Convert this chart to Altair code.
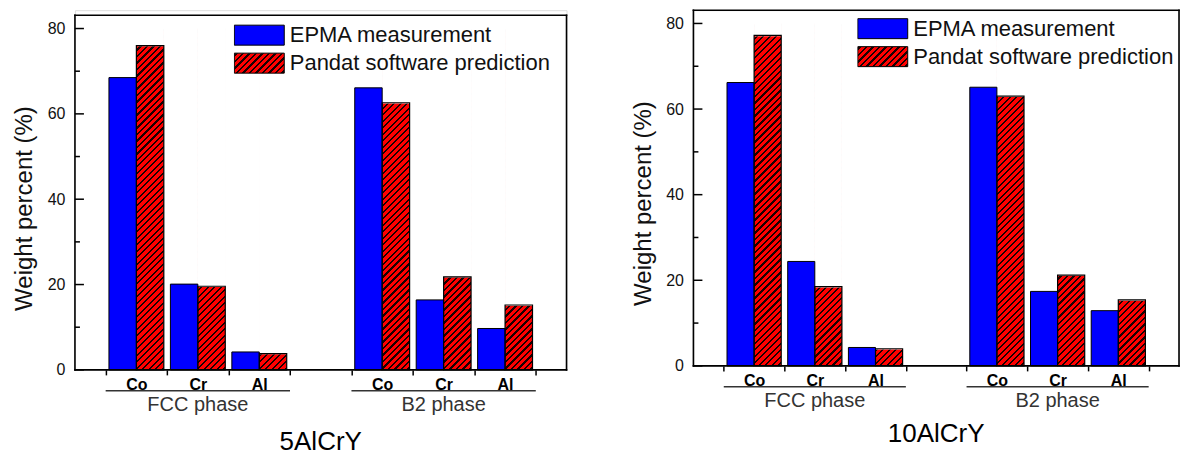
import altair as alt
import pandas as pd

# ---------------- data ----------------
elements = ["Co", "Cr", "Al"]
phases = ["FCC phase", "B2 phase"]
phase_keys = ["FCC", "B2"]
series = ["EPMA measurement", "Pandat software prediction"]

epma_5 = [68.5, 20.1, 4.2, 66.1, 16.4, 9.7]
pandat_5 = [76.0, 19.6, 3.8, 62.6, 21.8, 15.2]
epma_10 = [66.2, 24.4, 4.3, 65.1, 17.4, 12.9]
pandat_10 = [77.2, 18.5, 4.0, 63.0, 21.2, 15.4]

y_ticks_major = [0, 20, 40, 60, 80]
y_ticks_minor = [10, 30, 50, 70]

# category keys along x (with an empty slot between the two phases)
keys = [f"{p}|{e}" for p in phase_keys[:1] for e in elements] + ["gap"] + \
       [f"{p}|{e}" for p in phase_keys[1:] for e in elements]

FONT = "Liberation Sans"
BLUE = "#0000ff"
RED = "#ff0000"
INK = "#1a0000"
HATCH_TOP = 80
PAD_OUT = 0.12


def stops_for(w, h, p=6.5, b=2.2):
    L = w + h
    st = [(0.0, RED)]
    a = 1.5
    while a < L:
        o1 = min(a / L, 1.0)
        o2 = min((a + b) / L, 1.0)
        st += [(o1, RED), (o1, INK), (o2, INK), (o2, RED)]
        a += p
    st.append((1.0, RED))
    s = L / (w * w + h * h)
    return st, w * s, h * s


def hatch_gradient(w, h):
    st, x2, y2 = stops_for(w, h)
    return alt.LinearGradient(
        gradient="linear", x1=0, y1=0, x2=x2, y2=y2,
        stops=[alt.GradientStop(offset=o, color=c) for o, c in st])


def hatch_expr(w, h):
    st, x2, y2 = stops_for(w, h)
    stop_txt = ",".join("{offset:%.5f,color:'%s'}" % (o, c) for o, c in st)
    return "{gradient:'linear',x1:0,y1:0,x2:%.5f,y2:%.5f,stops:[%s]}" % (x2, y2, stop_txt)


def panel(title, epma, pandat, W, H, ymax, frame_top, legend_xy, title_y, title_offset):
    rows = []
    i = 0
    for pk in phase_keys:
        for el in elements:
            k = f"{pk}|{el}"
            rows.append({"key": k, "series": series[0], "value": epma[i]})
            rows.append({"key": k, "series": series[1], "value": pandat[i]})
            i += 1
    df = pd.DataFrame(rows)
    blue_df = df[df.series == series[0]]
    red_df = df[df.series == series[1]]

    band = W / 8.0
    bw = band / (2 + 2 * PAD_OUT)
    hh = HATCH_TOP / ymax * H

    xscale = alt.Scale(domain=keys, paddingInner=0, paddingOuter=0.5)
    xaxis = alt.Axis(
        title=None, labelExpr="indexof(datum.label,'|') >= 0 ? split(datum.label,'|')[1] : ''",
        tickBand="extent", ticks=True, tickSize=5, tickWidth=1.5, tickColor="black",
        domain=False, grid=False, labelAngle=0, labelFontSize=16, labelFontWeight="bold",
        labelColor="black", labelPadding=2, labelFont=FONT)
    yscale = alt.Scale(domain=[0, ymax], nice=False, zero=True)
    yaxis = alt.Axis(
        title="Weight percent (%)", values=y_ticks_major, format="d", ticks=False, tickSize=0,
        domain=False, grid=False, labelFontSize=16, labelPadding=10, labelColor="#111",
        labelFont=FONT, titleFont=FONT, titleFontSize=24, titleFontWeight="normal",
        titleColor="#111", titleX=-38, titleY=title_y)
    xo = alt.XOffset("series:N", scale=alt.Scale(domain=series, paddingInner=0, paddingOuter=PAD_OUT))

    X = alt.X("key:N", scale=xscale, axis=xaxis)

    hatch = alt.Chart(red_df).mark_bar(fill=hatch_gradient(bw, hh), strokeWidth=0).encode(
        x=X, xOffset=xo,
        y=alt.YDatum(0, scale=yscale, axis=yaxis, type="quantitative"),
        y2=alt.Y2Datum(HATCH_TOP))
    cover = alt.Chart(red_df).mark_bar(fill="white", stroke="white", strokeWidth=1.4).encode(
        x=X, xOffset=xo,
        y=alt.Y("value:Q", scale=yscale, axis=yaxis, stack=None),
        y2=alt.Y2Datum(HATCH_TOP))
    bars = alt.Chart(blue_df).mark_bar(stroke="black", strokeWidth=1).encode(
        x=X, xOffset=xo,
        y=alt.Y("value:Q", scale=yscale, axis=yaxis, stack=None),
        fill=alt.Fill("series:N",
                      scale=alt.Scale(domain=series, range=[BLUE, alt.ExprRef(hatch_expr(50, 20))]),
                      legend=alt.Legend(
                          orient="none", legendX=legend_xy[0], legendY=legend_xy[1], title=None,
                          symbolType="M-1,-0.4L1,-0.4L1,0.4L-1,0.4Z", symbolSize=2500,
                          symbolStrokeColor="black", symbolStrokeWidth=1, symbolOpacity=1,
                          labelFontSize=22, labelFont=FONT, labelColor="#111", labelOffset=5,
                          labelLimit=400, clipHeight=26, rowPadding=2, padding=0)))
    outline = alt.Chart(red_df).mark_bar(fill="white", fillOpacity=0, stroke="black", strokeWidth=1.2).encode(
        x=X, xOffset=xo,
        y=alt.Y("value:Q", scale=yscale, axis=yaxis, stack=None))

    tick_major = alt.Chart(pd.DataFrame({"v": y_ticks_major})).mark_rule(
        color="black", strokeWidth=1.5).encode(
        y=alt.Y("v:Q", scale=yscale, axis=yaxis), x=alt.value(0), x2=alt.value(9))
    tick_minor = alt.Chart(pd.DataFrame({"v": y_ticks_minor})).mark_rule(
        color="black", strokeWidth=1.5).encode(
        y=alt.Y("v:Q", scale=yscale, axis=yaxis), x=alt.value(0), x2=alt.value(5))

    # plot frame
    one = pd.DataFrame({"f": [0]})
    fr = dict(color="black", strokeWidth=1.6, strokeCap="square")
    frame = [
        alt.Chart(one).mark_rule(**fr).encode(x=alt.value(0), x2=alt.value(W), y=alt.value(frame_top)),
        alt.Chart(one).mark_rule(**fr).encode(x=alt.value(0), x2=alt.value(W), y=alt.value(H)),
        alt.Chart(one).mark_rule(**fr).encode(x=alt.value(0), y=alt.value(frame_top), y2=alt.value(H)),
        alt.Chart(one).mark_rule(**fr).encode(x=alt.value(W), y=alt.value(frame_top), y2=alt.value(H)),
    ]

    gdf = pd.DataFrame({
        "phase": phases,
        "start": [f"{p}|{elements[0]}" for p in phase_keys],
        "mid": [f"{p}|{elements[1]}" for p in phase_keys],
        "end": [f"{p}|{elements[2]}" for p in phase_keys],
    })
    underline = alt.Chart(gdf).mark_rule(color="#333", strokeWidth=1.5).encode(
        x=alt.X("start:N", scale=xscale, axis=xaxis, bandPosition=0),
        x2=alt.X2("end:N", bandPosition=1),
        y=alt.value(H + 21))
    glabel = alt.Chart(gdf).mark_text(fontSize=20, font=FONT, color="#333", baseline="middle").encode(
        x=alt.X("mid:N", scale=xscale, axis=xaxis), y=alt.value(H + 35), text="phase:N")

    layers = [hatch, cover, bars, outline, tick_major, tick_minor] + frame + [underline, glabel]

    return alt.layer(*layers).properties(
        width=W, height=H,
        title=alt.TitleParams(title, orient="bottom", anchor="middle", fontSize=26, font=FONT,
                              fontWeight="normal", color="black", offset=title_offset))


left = panel("5AlCrY", epma_5, pandat_5, 492, 360, 84.3, 5, (159, 12), 198, 14)
right = panel("10AlCrY", epma_10, pandat_10, 486, 356, 83.1, 0, (164, 5.5), 193, 10)

chart = alt.hconcat(left, right, spacing=62).resolve_scale(
    x="independent", y="independent", fill="independent", xOffset="independent"
).resolve_legend(fill="independent").configure_view(
    strokeWidth=0
).configure(font=FONT).properties(
    padding={"left": 12, "top": 8, "right": 0, "bottom": 0}
)

chart.save("out.html", embed_options={"renderer": "svg", "actions": False})
